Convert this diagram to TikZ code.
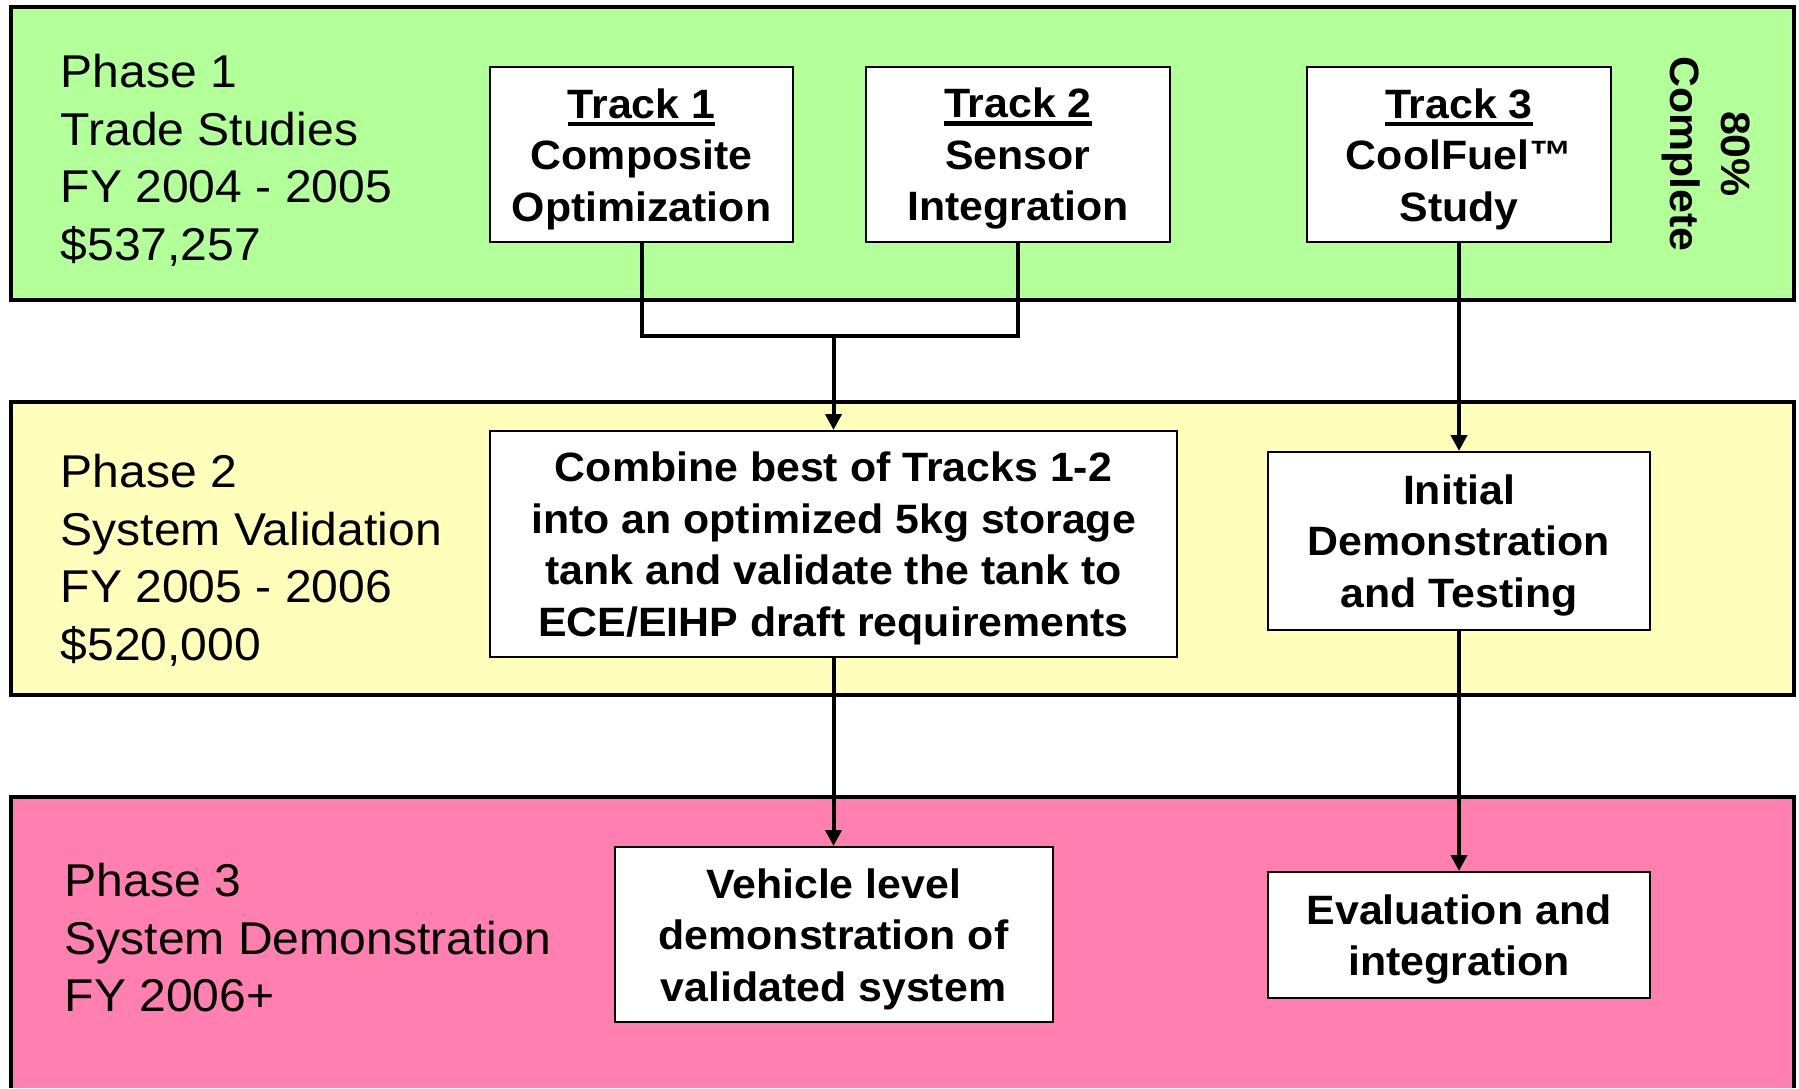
\documentclass[tikz,border=0pt]{standalone}
\usepackage{fontspec}
\setmainfont[FakeStretch=1.045]{Liberation Sans}
\usetikzlibrary{arrows.meta}
\definecolor{phgreen}{HTML}{B3FF99}
\definecolor{phyellow}{HTML}{FFFFBB}
\definecolor{phpink}{HTML}{FF80B0}
\newsavebox\tulbox
\newcommand\trackul[1]{\sbox\tulbox{#1}\rlap{\rule[-8pt]{\wd\tulbox}{4.5pt}}\usebox\tulbox}
\newcommand\bs{\rule{0pt}{38.5pt}}
\begin{document}
\begin{tikzpicture}[x=1pt,y=-1pt,
  phase/.style={draw=black, line width=4pt},
  box/.style={draw=black, fill=white, line width=2pt, align=center, inner sep=0pt,
    font=\fontsize{41}{51.5}\selectfont\bfseries},
  lbl/.style={anchor=north west, align=left, inner sep=0pt,
    font=\fontsize{46}{57.5}\selectfont},
  conn/.style={line width=4pt},
  arr/.style={line width=4pt, -{Triangle[length=16pt,width=16pt]}}]
\useasboundingbox (0,0) rectangle (1799,1088);
\fill[white] (0,0) rectangle (1799,1088);
% phase bands
\draw[phase, fill=phgreen] (11,7) rectangle (1794,300);
\draw[phase, fill=phyellow] (11,402) rectangle (1794,695);
\fill[phpink] (11,797) rectangle (1794,1088);
\draw[phase] (11,1088) |- (1794,797) -- (1794,1088);
% phase labels
\node[lbl] (p1) at (60.5,54) {Phase 1\\Trade Studies\\FY 2004 - 2005\\\$537,257};
\node[lbl] (p2) at (60.5,454) {Phase 2\\System Validation\\FY 2005 - 2006\\\$520,000};
\node[lbl] (p3) at (64.5,863) {Phase 3\\System Demonstration\\FY 2006+};
\node[rotate=-90, align=center, inner sep=0pt, font=\fontsize{41}{51}\selectfont\bfseries]
  (pct) at (1706,154) {80\%\\Complete};
% boxes
\node[box, minimum width=303pt, minimum height=175pt] (t1) at (641.5,154.5)
  {\bs\trackul{Track 1}\\Composite\\Optimization};
\node[box, minimum width=304pt, minimum height=175pt] (t2) at (1018,154.5)
  {\bs\trackul{Track 2}\\Sensor\\Integration};
\node[box, minimum width=304pt, minimum height=175pt] (t3) at (1459,154.5)
  {\bs\trackul{Track 3}\\CoolFuel™\\Study};
\node[box, minimum width=687pt, minimum height=226pt] (comb) at (833.5,544)
  {\bs Combine best of Tracks 1-2\\into an optimized 5kg storage\\tank and validate the tank to\\ECE/EIHP draft requirements};
\node[box, minimum width=382pt, minimum height=178pt] (init) at (1459,541)
  {\bs Initial\\Demonstration\\and Testing};
\node[box, minimum width=438pt, minimum height=175pt] (veh) at (833.5,934.5)
  {\bs Vehicle level\\demonstration of\\validated system};
\node[box, minimum width=382pt, minimum height=126pt] (eval) at (1459,935)
  {\bs Evaluation and\\integration};
% connectors
\coordinate (j) at (833.5,336);
\draw[conn] (t1.south) |- (j) -| (t2.south);
\draw[arr] (j) -- (comb.north);
\draw[arr] (t3.south) -- (init.north);
\draw[arr] (comb.south) -- (veh.north);
\draw[arr] (init.south) -- (eval.north);
\end{tikzpicture}
\end{document}
